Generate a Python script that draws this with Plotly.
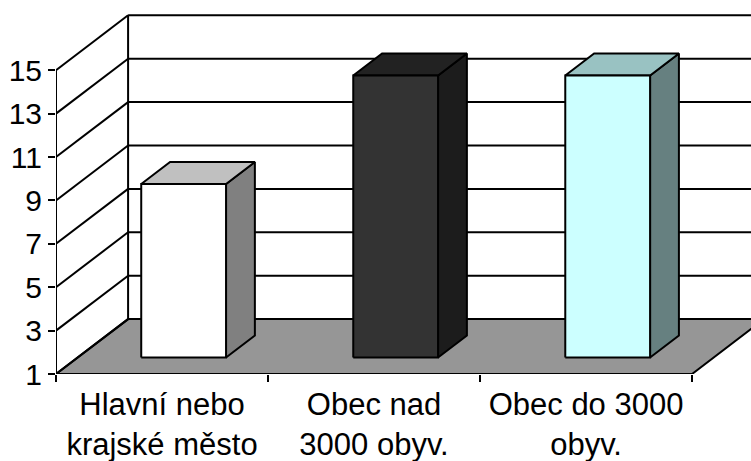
import plotly.graph_objects as go

# Categories and values
categories = ["Hlavní nebo<br>krajské město", "Obec nad<br>3000 obyv.", "Obec do 3000<br>obyv."]
values = [9, 14, 14]
y_ticks = [1, 3, 5, 7, 9, 11, 13, 15]

# Bar face colours (front, top, side)
front_colors = ["#ffffff", "#333333", "#ccffff"]
top_colors = ["#c0c0c0", "#222222", "#99c2c2"]
side_colors = ["#808080", "#1c1c1c", "#668080"]

FLOOR_COLOR = "#969696"
LINE = "#000000"

# Oblique projection of the depth axis (in category / value units)
DEPTH_X = 0.34
DEPTH_Y = 2.53
BAR_HALF = 0.2
BAR_F0, BAR_F1 = 0.3, 0.7
Y_MIN, Y_MAX = y_ticks[0], y_ticks[-1]
N = len(categories)


def proj(c, v, f):
    return c + f * DEPTH_X, v + f * DEPTH_Y


def poly(pts, fill, width=2):
    xs = [p[0] for p in pts] + [pts[0][0]]
    ys = [p[1] for p in pts] + [pts[0][1]]
    return go.Scatter(x=xs, y=ys, mode="lines", fill="toself", fillcolor=fill,
                      line=dict(color=LINE, width=width), hoverinfo="skip",
                      showlegend=False)


def seg(p, q, width=2):
    return go.Scatter(x=[p[0], q[0]], y=[p[1], q[1]], mode="lines",
                      line=dict(color=LINE, width=width), hoverinfo="skip",
                      showlegend=False)


fig = go.Figure()

# Floor
fig.add_trace(poly([proj(0, Y_MIN, 0), proj(N, Y_MIN, 0),
                    proj(N, Y_MIN, 1), proj(0, Y_MIN, 1)], FLOOR_COLOR))

# Walls: side-wall diagonals, back-wall gridlines, wall edges
for v in y_ticks:
    fig.add_trace(seg(proj(0, v, 0), proj(0, v, 1)))
    if v > Y_MIN:
        fig.add_trace(seg(proj(0, v, 1), proj(N, v, 1)))
fig.add_trace(seg(proj(0, Y_MIN, 0), proj(0, Y_MAX, 0)))
fig.add_trace(seg(proj(0, Y_MIN, 1), proj(0, Y_MAX, 1)))

# Bars
for i, val in enumerate(values):
    c = i + 0.5
    l, r = c - BAR_HALF, c + BAR_HALF
    fig.add_trace(poly([proj(r, Y_MIN, BAR_F0), proj(r, Y_MIN, BAR_F1),
                        proj(r, val, BAR_F1), proj(r, val, BAR_F0)], side_colors[i]))
    fig.add_trace(poly([proj(l, val, BAR_F0), proj(r, val, BAR_F0),
                        proj(r, val, BAR_F1), proj(l, val, BAR_F1)], top_colors[i]))
    fig.add_trace(poly([proj(l, Y_MIN, BAR_F0), proj(r, Y_MIN, BAR_F0),
                        proj(r, val, BAR_F0), proj(l, val, BAR_F0)], front_colors[i]))

FONT = "Arial, Liberation Sans, sans-serif"

fig.update_layout(
    width=751, height=461,
    margin=dict(l=56, r=0, t=0, b=87),
    paper_bgcolor="white", plot_bgcolor="white",
    showlegend=False,
    font=dict(family=FONT, size=29, color="black"),
    xaxis=dict(
        range=[0, 3.278], showgrid=False, zeroline=False, showline=False,
        tickmode="array", tickvals=[i + 0.5 for i in range(N)], ticktext=categories,
        ticks="", ticklabelstandoff=9,
        tickfont=dict(family=FONT, size=31, color="black"),
        minor=dict(tickmode="array", tickvals=list(range(N + 1)), ticks="outside",
                   ticklen=7, tickwidth=2, tickcolor="black", showgrid=False),
        fixedrange=True,
    ),
    yaxis=dict(
        range=[1, 18.235], showgrid=False, zeroline=False, showline=False,
        tickmode="array", tickvals=y_ticks, ticktext=[str(t) for t in y_ticks],
        ticks="outside", ticklen=7, tickwidth=2, tickcolor="black",
        ticklabelstandoff=0,
        tickfont=dict(family=FONT, size=30, color="black"),
        fixedrange=True,
    ),
)

fig.write_html("out.html")
